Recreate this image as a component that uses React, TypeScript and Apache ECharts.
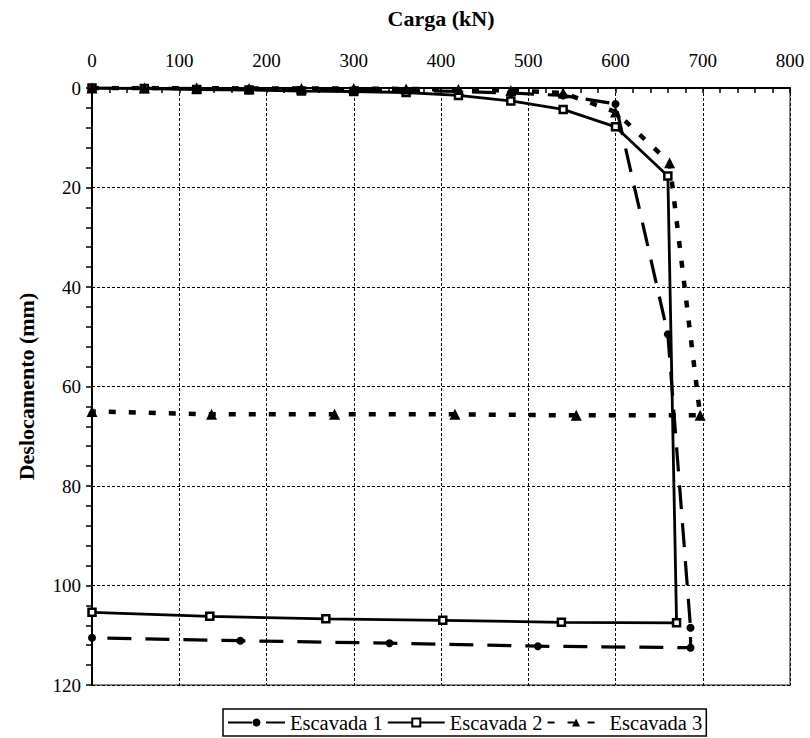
import React, { useEffect, useRef } from "react";
import * as echarts from "echarts";

const seriesNames = ["Escavada 1", "Escavada 2", "Escavada 3"];

const load1 = [0, 60, 120, 180, 240, 300, 360, 420, 480, 540, 600, 660, 686, 686, 511, 341, 170, 0];
const disp1 = [0, 0, 0.1, 0.2, 0.3, 0.4, 0.5, 0.7, 1.0, 1.5, 3.2, 49.5, 108.5, 112.5, 112.2, 111.6, 111.1, 110.5];

const load2 = [0, 60, 120, 180, 240, 300, 360, 420, 480, 540, 600, 660, 670, 538, 402, 268, 135, 0];
const disp2 = [0, 0.1, 0.3, 0.4, 0.6, 0.7, 0.9, 1.5, 2.6, 4.3, 7.8, 17.7, 107.5, 107.4, 107.0, 106.7, 106.2, 105.4];

const load3 = [0, 60, 120, 180, 240, 300, 360, 420, 480, 540, 600, 662, 697, 555, 416, 278, 137, 0];
const disp3 = [0, 0, 0, 0.1, 0.1, 0.1, 0.2, 0.3, 0.5, 1.0, 4.8, 15.0, 65.8, 65.8, 65.6, 65.6, 65.6, 65.0];

const xTickValues = [0, 100, 200, 300, 400, 500, 600, 700, 800];
const yTickValues = [0, 20, 40, 60, 80, 100, 120];

const xTitle = "Carga (kN)";
const yTitle = "Deslocamento (mm)";

const FONT = "Tinos";

function pairs(xs: number[], ys: number[]) {
  return xs.map((x, i) => [x, ys[i]]);
}

export default function App() {
  const ref = useRef<HTMLDivElement>(null);
  useEffect(() => {
    if (!ref.current) return;
    const chart = echarts.init(ref.current, undefined, { renderer: "svg" });
    chart.setOption({
      animation: false,
      backgroundColor: "#fff",
      textStyle: { fontFamily: FONT, color: "#000" },
      grid: {
        left: 92,
        right: 20,
        top: 88,
        bottom: 53,
        show: true,
        borderColor: "#8a8a8a",
        borderWidth: 2,
        outerBoundsMode: "none",
        containLabel: false,
      },
      legend: {
        data: seriesNames,
        left: 223,
        top: 709,
        orient: "horizontal",
        itemWidth: 57,
        itemHeight: 10,
        itemGap: 4,
        padding: [3, 4, 3, 4],
        borderColor: "#000",
        borderWidth: 1.5,
        borderRadius: 0,
        textStyle: { fontFamily: FONT, fontSize: 20.5, color: "#000" },
      },
      xAxis: {
        type: "value",
        position: "top",
        min: 0,
        max: 800,
        interval: 100,
        axisLine: { show: true, onZero: false, lineStyle: { color: "#000", width: 2 } },
        axisTick: { show: true, inside: true, length: 5, lineStyle: { color: "#000", width: 1.5 } },
        minorTick: { show: true, splitNumber: 5, length: 5, lineStyle: { color: "#000", width: 1.5 } },
        axisLabel: { show: false },
        splitLine: { show: true, lineStyle: { color: "#000", width: 1, type: [3, 2] } },
      },
      yAxis: {
        type: "value",
        inverse: true,
        min: 0,
        max: 120,
        interval: 20,
        axisLine: { show: true, onZero: false, lineStyle: { color: "#000", width: 2 } },
        axisTick: { show: true, inside: false, length: 6, lineStyle: { color: "#000", width: 1.5 } },
        minorTick: { show: true, splitNumber: 5, length: 6, lineStyle: { color: "#000", width: 1.5 } },
        axisLabel: { show: false },
        splitLine: { show: true, lineStyle: { color: "#000", width: 1, type: [3, 2] } },
      },
      series: [
        {
          name: seriesNames[0],
          type: "line",
          data: pairs(load1, disp1),
          symbol: "circle",
          symbolSize: 8,
          itemStyle: { color: "#000" },
          lineStyle: { color: "#000", width: 3.2, type: [24, 14] },
          z: 3,
        },
        {
          name: seriesNames[1],
          type: "line",
          data: pairs(load2, disp2),
          symbol: "rect",
          symbolSize: 7,
          itemStyle: { color: "#fff", borderColor: "#000", borderWidth: 2.5 },
          lineStyle: { color: "#000", width: 2.8, type: "solid" },
          z: 4,
        },
        {
          name: seriesNames[2],
          type: "line",
          data: pairs(load3, disp3),
          symbol: "triangle",
          symbolSize: 11,
          itemStyle: { color: "#000" },
          lineStyle: { color: "#000", width: 4.5, type: [7, 13] },
          z: 5,
        },
      ],
    });

    // Tick labels and axis names as serif texts, placed through the axes' own scales.
    const graphics: any[] = [];
    xTickValues.forEach((v) => {
      const px = chart.convertToPixel({ xAxisIndex: 0 }, v) as number;
      graphics.push({
        type: "text",
        x: px,
        y: 60,
        silent: true,
        style: { text: String(v), fontFamily: FONT, fontSize: 19, fill: "#000", align: "center", verticalAlign: "middle" },
      });
    });
    const y0 = chart.convertToPixel({ yAxisIndex: 0 }, 0) as number;
    const y1 = chart.convertToPixel({ yAxisIndex: 0 }, 120) as number;
    const x0 = chart.convertToPixel({ xAxisIndex: 0 }, 0) as number;
    const x1 = chart.convertToPixel({ xAxisIndex: 0 }, 800) as number;
    yTickValues.forEach((v) => {
      const py = chart.convertToPixel({ yAxisIndex: 0 }, v) as number;
      graphics.push({
        type: "text",
        x: x0 - 11,
        y: py,
        silent: true,
        style: { text: String(v), fontFamily: FONT, fontSize: 19, fill: "#000", align: "right", verticalAlign: "middle" },
      });
    });
    graphics.push({
      type: "text",
      x: (x0 + x1) / 2,
      y: 18,
      silent: true,
      style: { text: xTitle, fontFamily: FONT, fontSize: 22, fontWeight: "bold", fill: "#000", align: "center", verticalAlign: "middle" },
    });
    graphics.push({
      type: "text",
      x: 26,
      y: (y0 + y1) / 2,
      rotation: Math.PI / 2,
      silent: true,
      style: { text: yTitle, fontFamily: FONT, fontSize: 22, fontWeight: "bold", fill: "#000", align: "center", verticalAlign: "middle" },
    });
    chart.setOption({ graphic: graphics });

    return () => chart.dispose();
  }, []);
  return (
    <div
      ref={ref}
      style={{ position: "fixed", left: 0, top: 0, width: 810, height: 738, background: "#fff" }}
    />
  );
}
